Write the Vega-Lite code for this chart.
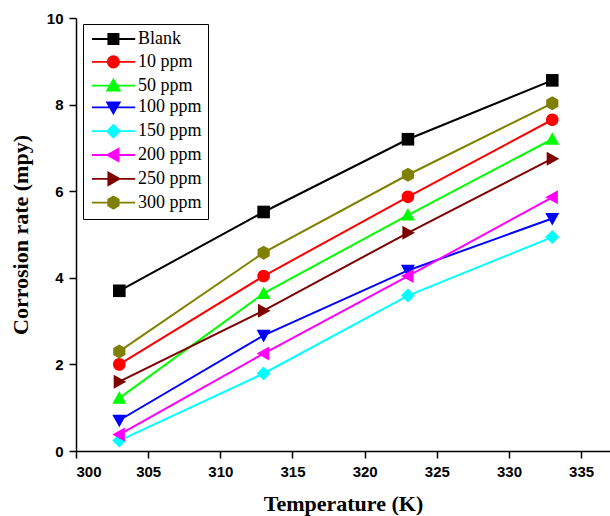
{
  "$schema": "https://vega.github.io/schema/vega-lite/v6.json",
  "width": 534,
  "height": 433,
  "autosize": {"type": "none"},
  "padding": {"left": 76, "top": 18, "right": 0, "bottom": 65},
  "background": "white",
  "config": {
    "view": {"stroke": null},
    "axis": {
      "grid": false,
      "domainColor": "#000",
      "domainWidth": 1.5,
      "tickColor": "#000",
      "tickWidth": 1.5,
      "tickSize": 7,
      "labelPadding": 6,
      "labelFont": "Liberation Sans",
      "labelFontWeight": "bold",
      "labelFontSize": 15,
      "labelColor": "#000",
      "titleFont": "Liberation Serif",
      "titleFontWeight": "bold",
      "titleFontSize": 22,
      "titleColor": "#000"
    }
  },
  "data": {
    "values": [
      {"series": "Blank", "temp": 303, "rate": 3.7},
      {"series": "Blank", "temp": 313, "rate": 5.52},
      {"series": "Blank", "temp": 323, "rate": 7.2},
      {"series": "Blank", "temp": 333, "rate": 8.56},
      {"series": "10 ppm", "temp": 303, "rate": 2.0},
      {"series": "10 ppm", "temp": 313, "rate": 4.04},
      {"series": "10 ppm", "temp": 323, "rate": 5.87},
      {"series": "10 ppm", "temp": 333, "rate": 7.65},
      {"series": "50 ppm", "temp": 303, "rate": 1.22},
      {"series": "50 ppm", "temp": 313, "rate": 3.64},
      {"series": "50 ppm", "temp": 323, "rate": 5.45},
      {"series": "50 ppm", "temp": 333, "rate": 7.2},
      {"series": "100 ppm", "temp": 303, "rate": 0.71},
      {"series": "100 ppm", "temp": 313, "rate": 2.67},
      {"series": "100 ppm", "temp": 323, "rate": 4.17},
      {"series": "100 ppm", "temp": 333, "rate": 5.37},
      {"series": "150 ppm", "temp": 303, "rate": 0.24},
      {"series": "150 ppm", "temp": 313, "rate": 1.79},
      {"series": "150 ppm", "temp": 323, "rate": 3.59},
      {"series": "150 ppm", "temp": 333, "rate": 4.94},
      {"series": "200 ppm", "temp": 303, "rate": 0.38},
      {"series": "200 ppm", "temp": 313, "rate": 2.25},
      {"series": "200 ppm", "temp": 323, "rate": 4.04},
      {"series": "200 ppm", "temp": 333, "rate": 5.86},
      {"series": "250 ppm", "temp": 303, "rate": 1.6},
      {"series": "250 ppm", "temp": 313, "rate": 3.24},
      {"series": "250 ppm", "temp": 323, "rate": 5.04},
      {"series": "250 ppm", "temp": 333, "rate": 6.75},
      {"series": "300 ppm", "temp": 303, "rate": 2.3},
      {"series": "300 ppm", "temp": 313, "rate": 4.58},
      {"series": "300 ppm", "temp": 323, "rate": 6.38},
      {"series": "300 ppm", "temp": 333, "rate": 8.03}
    ]
  },
  "encoding": {
    "x": {
      "field": "temp",
      "type": "quantitative",
      "scale": {"domain": [300, 337], "nice": false, "zero": false},
      "axis": {"values": [300, 305, 310, 315, 320, 325, 330, 335], "title": "Temperature (K)", "titlePadding": 14}
    },
    "y": {
      "field": "rate",
      "type": "quantitative",
      "scale": {"domain": [0, 10], "nice": false},
      "axis": {"values": [0, 2, 4, 6, 8, 10], "title": "Corrosion rate (mpy)", "titlePadding": 14}
    },
    "color": {
      "field": "series",
      "type": "nominal",
      "scale": {
        "domain": ["Blank", "10 ppm", "50 ppm", "100 ppm", "150 ppm", "200 ppm", "250 ppm", "300 ppm"],
        "range": ["#000000", "#FF0000", "#00FF00", "#0000FF", "#00FFFF", "#FF00FF", "#800000", "#808000"]
      },
      "legend": null
    }
  },
  "layer": [
    {
      "mark": {"type": "line", "strokeWidth": 2},
      "encoding": {"detail": {"field": "series"}}
    },
    {
      "mark": {"type": "point", "filled": true, "opacity": 1, "size": 196},
      "encoding": {
        "shape": {
          "field": "series",
          "type": "nominal",
          "scale": {
            "domain": ["Blank", "10 ppm", "50 ppm", "100 ppm", "150 ppm", "200 ppm", "250 ppm", "300 ppm"],
            "range": [
              "M-0.9,-0.9H0.9V0.9H-0.9Z",
              "M-0.9,0A0.9,0.9,0,1,1,0.9,0A0.9,0.9,0,1,1,-0.9,0Z",
              "M0,-1L1,0.8H-1Z",
              "M0,1L1,-0.8H-1Z",
              "M0,-1L1,0L0,1L-1,0Z",
              "M-1,0L0.8,-1V1Z",
              "M1,0L-0.8,-1V1Z",
              "M0,-1L0.87,-0.5V0.5L0,1L-0.87,0.5V-0.5Z"
            ]
          },
          "legend": null
        }
      }
    },
    {
      "transform": [{"filter": "datum.temp > 1000"}],
      "mark": {"type": "point", "filled": true, "opacity": 1, "size": 144, "strokeWidth": 1.6},
      "encoding": {
        "shape": {
          "field": "series",
          "type": "nominal",
          "scale": {
            "domain": ["Blank", "10 ppm", "50 ppm", "100 ppm", "150 ppm", "200 ppm", "250 ppm", "300 ppm"],
            "range": [
              "M-1,0H6.2M1.72,-0.85H3.42V0.85H1.72Z",
              "M-1,0H6.2M1.62,0A0.95,0.95,0,1,1,3.52,0A0.95,0.95,0,1,1,1.62,0Z",
              "M-1,0H6.2M2.57,-1L3.62,0.85H1.52Z",
              "M-1,0H6.2M2.57,1L3.62,-0.85H1.52Z",
              "M-1,0H6.2M2.57,-1.05L3.62,0L2.57,1.05L1.52,0Z",
              "M-1,0H6.2M1.57,0L3.42,-1.05V1.05Z",
              "M-1,0H6.2M3.57,0L1.72,-1.05V1.05Z",
              "M-1,0H6.2M2.57,-1L3.44,-0.5V0.5L2.57,1L1.7,0.5V-0.5Z"
            ]
          },
          "legend": {
            "title": null,
            "orient": "none",
            "legendX": 7,
            "legendY": 6,
            "padding": 6,
            "strokeColor": "#000",
            "fillColor": "#fff",
            "labelFont": "Liberation Serif",
            "labelFontSize": 18,
            "labelColor": "#000",
            "labelOffset": 31,
            "rowPadding": 3.8,
            "symbolSize": 144,
            "symbolStrokeWidth": 1.8
          }
        },
        "color": {
          "field": "series",
          "type": "nominal",
          "legend": {
            "title": null,
            "orient": "none",
            "legendX": 7,
            "legendY": 6,
            "padding": 6,
            "strokeColor": "#000",
            "fillColor": "#fff",
            "labelFont": "Liberation Serif",
            "labelFontSize": 18,
            "labelColor": "#000",
            "labelOffset": 31,
            "rowPadding": 3.8,
            "symbolSize": 144,
            "symbolStrokeWidth": 1.8
          }
        },
        "stroke": {
          "field": "series",
          "type": "nominal",
          "scale": {
            "domain": ["Blank", "10 ppm", "50 ppm", "100 ppm", "150 ppm", "200 ppm", "250 ppm", "300 ppm"],
            "range": ["#000000", "#FF0000", "#00FF00", "#0000FF", "#00FFFF", "#FF00FF", "#800000", "#808000"]
          },
          "legend": {
            "title": null,
            "orient": "none",
            "legendX": 7,
            "legendY": 6,
            "padding": 6,
            "strokeColor": "#000",
            "fillColor": "#fff",
            "labelFont": "Liberation Serif",
            "labelFontSize": 18,
            "labelColor": "#000",
            "labelOffset": 31,
            "rowPadding": 3.8,
            "symbolSize": 144,
            "symbolStrokeWidth": 1.8
          }
        }
      }
    }
  ],
  "resolve": {
    "scale": {"shape": "independent"},
    "legend": {"shape": "independent", "color": "independent", "stroke": "independent"}
  }
}
